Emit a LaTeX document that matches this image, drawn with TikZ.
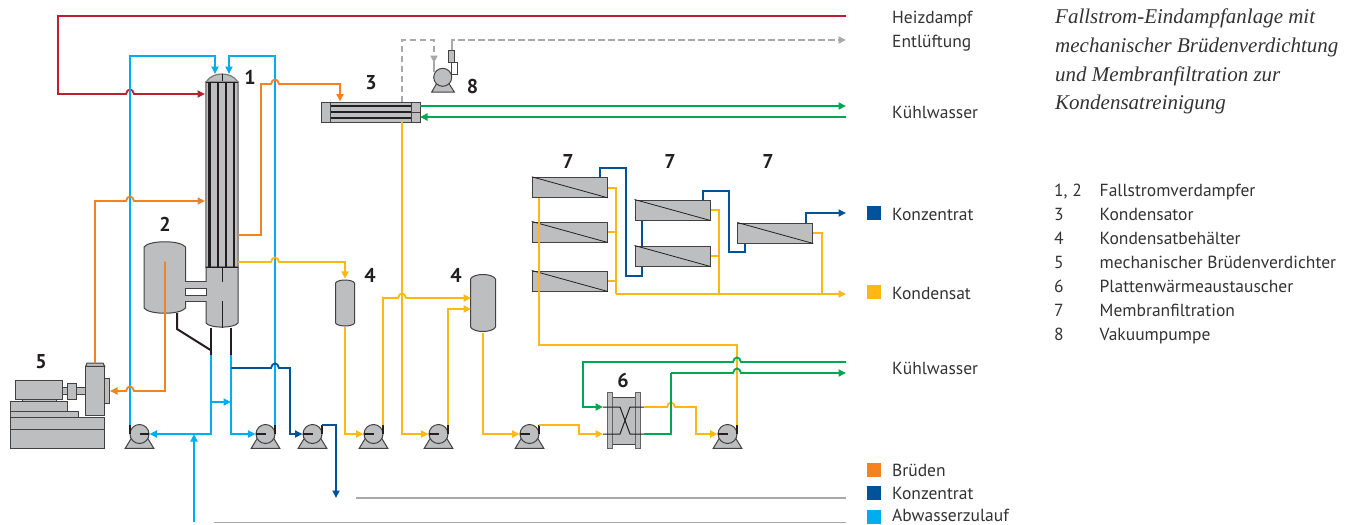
\documentclass[tikz,border=0pt]{standalone}
\usepackage{fontspec}
\setmainfont{PT Sans}
\newfontfamily\titlefont{Liberation Serif}
\usetikzlibrary{arrows.meta,calc}
\definecolor{cRed}{HTML}{BE1E2D}
\definecolor{cLblue}{HTML}{00AEEF}
\definecolor{cDblue}{HTML}{00529B}
\definecolor{cOrange}{HTML}{F58220}
\definecolor{cYellow}{HTML}{FDB813}
\definecolor{cGreen}{HTML}{00A651}
\definecolor{cGray}{HTML}{BCBEC0}
\definecolor{cDash}{HTML}{A7A9AC}
\definecolor{cDark}{HTML}{231F20}
\definecolor{cText}{HTML}{333333}
\tikzset{
  x=1pt,y=-1pt,
  pipe/.style={line width=1.8pt,line join=miter},
  tip/.style={-{Triangle[length=7.5pt,width=7pt]}},
  equip/.style={draw=cDark!85,fill=cGray,line width=1pt},
  pumpc/.style={circle,draw=cDark!85,fill=cGray,line width=1pt,minimum size=19pt,inner sep=0pt},
  membrane/.style={rectangle,draw=cDark!85,fill=cGray,line width=1pt,minimum width=75pt,minimum height=20pt,inner sep=0pt},
  anchorbox/.style={rectangle,inner sep=0pt},
  lbl/.style={anchor=base west,inner sep=0pt,font=\fontsize{17.5}{17.5}\selectfont,text=cText},
  num/.style={anchor=center,inner sep=0pt,font=\fontsize{20}{20}\selectfont\bfseries,text=cDark},
  ttl/.style={anchor=base west,inner sep=0pt,font=\fontsize{21}{21}\selectfont\titlefont\itshape,text=cText},
  leg/.style={rectangle,inner sep=0pt,minimum size=14pt},
}
% jumps over a vertical pipe at x=#1 on a horizontal run at y=#2
\newcommand{\jr}[2]{-- ({#1-4},#2) .. controls ({#1-3},{#2-6}) and ({#1+3},{#2-6}) .. ({#1+4},#2)}
\newcommand{\jl}[2]{-- ({#1+4},#2) .. controls ({#1+3},{#2-6}) and ({#1-3},{#2-6}) .. ({#1-4},#2)}
% name, x, y, direction
\newcommand{\pump}[4]{%
  \draw[equip] ({#2-14.3},{#3+14.3}) -- ({#2-8},{#3+4}) -- ({#2+8},{#3+4}) -- ({#2+14.3},{#3+14.3}) -- cycle;
  \node[pumpc] (#1) at (#2,#3) {};
  \draw[cDark,line width=1.1pt] (#2,#3) -- ({#2-#4*9.5},#3);
  \coordinate (#1o) at ({#2+#4*9.5},{#3-9});
  \draw[cDark,line width=1.8pt] (#1o) -- ({#2+#4*9.5},#3);
}
% name,x1,x2,y1,y2,d : vessel with dished ends
\newcommand{\vessel}[6]{%
  \draw[equip] (#2,{#4+#6}) .. controls ({#2+.12*(#3-#2)},#4) and ({#3-.12*(#3-#2)},#4) .. (#3,{#4+#6})
   -- (#3,{#5-#6}) .. controls ({#3-.12*(#3-#2)},#5) and ({#2+.12*(#3-#2)},#5) .. (#2,{#5-#6}) -- cycle;
  \node[anchorbox,minimum width={(#3-#2)*1pt},minimum height={(#5-#4)*1pt}] (#1) at ({(#2+#3)/2},{(#4+#5)/2}) {};
}
\begin{document}
\begin{tikzpicture}
\useasboundingbox (0,0) rectangle (1353,525);
\fill[white] (0,0) rectangle (1353,525);

% --- compressor 5
\draw[equip] (10.7,429.7) rectangle (104.7,448.3);
\draw[equip] (10.7,417.3) rectangle (104.7,429.7);
\draw[equip] (10.7,411) rectangle (78,417.3);
\draw[equip] (10.7,401.7) rectangle (67,411);
\draw[equip] (22.3,399.7) rectangle (56,401.7);
\draw[equip] (15.7,380.7) rectangle (62,399.7);
\draw[equip] (62,387) rectangle (67,394);
\draw[equip] (67,383) rectangle (76.3,399);
\draw[equip] (76.3,387.7) rectangle (85.7,394.7);
\draw[equip] (104.7,378.3) rectangle (109.7,403.3);
\draw[equip] (85.7,366.3) -- (87,363) -- (103,363) -- (104.7,366.3) -- (85.7,366.3);
\node[rectangle,draw=cDark!85,fill=cGray,line width=1pt,inner sep=0pt,minimum width=19pt,minimum height=49pt] (K5) at (95.2,390.8) {};
\coordinate (K5top) at (95,363);
\coordinate (K5in) at (110,391);

% --- separator 2 and column 1
\vessel{S2}{144}{185.5}{240}{315}{7}
\draw[equip,draw=cDark!60,line width=1.2pt] (206,82) .. controls (210,76) and (216,74) .. (222,74) .. controls (228,74) and (234,76) .. (238,82) -- cycle;
\draw[cDark,line width=1pt] (222,74) -- (222,82);
\draw[equip,draw=cDark!50,line width=1.3pt] (206,82) rectangle (238,267);
\draw[equip] (206,267) -- (238,267) -- (238,323) .. controls (234,328.5) and (210,328.5) .. (206,323) -- cycle;
\foreach \tx in {209.5,217.7,226,234.3} {\draw[cDark,line width=2.3pt] (\tx,82) -- (\tx,267);}
\draw[cDark,line width=1pt] (206,82) -- (238,82);
\draw[cDark,line width=1pt] (206,267) -- (238,267);
\draw[cDark,line width=1pt] (222,267) -- (222,282) (222,301) -- (222,327.5);
\fill[cGray] (185,281.7) rectangle (206.5,301);
\draw[cDark!85,line width=1pt] (185.5,281.7) -- (206,281.7) (185.5,301) -- (206,301);
\draw[cDark!85,fill=white,line width=1pt] (185.5,288) rectangle (206,295);
\node[anchorbox,minimum width=32pt,minimum height=254pt] (C1) at (222,201) {};
\coordinate (C1a) at (215,74);
\coordinate (C1bb) at (229,74);
\coordinate (C1c) at (205,94);
\coordinate (C1d) at (205,201);
\coordinate (C1e) at (238,235);
\coordinate (C1f) at (238,262);
\coordinate (C1g) at (211,355);
\coordinate (C1h) at (231,355);
\coordinate (S2o) at (165,261.5);
\draw[cDark,line width=2pt,line join=miter] (177,313) -- (177,329) -- (210.5,350);
\draw[cDark,line width=2pt] (211,327.5) -- (C1g);
\draw[cDark,line width=2pt] (231,327.5) -- (C1h);

% --- condenser 3
\node[rectangle,draw=cDark!85,fill=cGray,line width=1pt,inner sep=0pt,minimum width=98.3pt,minimum height=20pt] (C3) at (370.85,112.3) {};
\draw[cDark!85,line width=1pt] (330.7,102.3) -- (330.7,122.3) (411,102.3) -- (411,122.3) (411,112.3) -- (420,112.3);
\foreach \ty in {106,111.7,117.7} {\draw[cDark,line width=1.9pt] (330.7,\ty) -- (411,\ty);}
\coordinate (C3a) at (402,102.3);
\coordinate (C3b) at (402,122.3);
\coordinate (C3c) at (340,101.5);
\coordinate (C3d) at (420,106);
\coordinate (C3e) at (420,117);

% --- vacuum pump 8
\draw[equip] (431.7,92) -- (437.5,82) -- (448,82) -- (454.3,92) -- cycle;
\node[pumpc,minimum size=18pt] (V8) at (442.7,77.3) {};
\draw[cDark!85,fill=white,line width=1pt] (451.7,62) rectangle (457.3,74.3);
\draw[equip] (448.3,50.3) rectangle (454.7,62);
\coordinate (V8a) at (434,71.5);
\coordinate (V8b) at (452,50.3);

% --- vessels 4
\vessel{V4a}{335.5}{354.5}{279}{327}{4}
\vessel{V4b}{470.5}{495.5}{273}{333}{6}

% --- pumps
\pump{P1}{139.5}{434}{-1}
\pump{P2}{265.5}{434}{1}
\pump{P3}{312.5}{434}{1}
\pump{P4}{373.5}{434}{1}
\pump{P5}{438.5}{434}{1}
\pump{P6}{529.5}{434}{1}
\pump{P7}{727.5}{434}{1}

% --- membrane modules
\node[membrane] (M1) at (569.8,187.3) {};
\node[membrane] (M2) at (569.8,232) {};
\node[membrane] (M3) at (569.8,281) {};
\node[membrane] (M4) at (672.5,210) {};
\node[membrane] (M5) at (672.5,256) {};
\node[membrane] (M6) at (775.3,233) {};
\foreach \mm in {M1,M2,M3,M4,M5,M6} {\draw[cDark,line width=.8pt] (\mm.north west) -- (\mm.south east);}

% --- heat exchanger 6
\draw[equip] (612.5,397) rectangle (635.3,444);
\draw[equip,draw=cDark!70] (607.3,392) rectangle (612.5,448);
\draw[equip,draw=cDark!70] (635.3,392) rectangle (640.7,448);
\node[anchorbox,minimum width=33.4pt,minimum height=56pt] (H6) at (624,420) {};
\draw[cDark,line width=1pt] (603,407) -- (620,407) -- (630,434) -- (644.3,434);
\draw[cDark,line width=1pt] (603,434) -- (620,434) -- (630,407) -- (644.3,407);
\coordinate (H6a) at (603,407);
\coordinate (H6b) at (603,434);
\coordinate (H6c) at (644.3,407);
\coordinate (H6d) at (644.3,434);

% --- right-hand free ends
\coordinate (Eheiz) at (846,16);
\coordinate (Eent) at (846,40);
\coordinate (Ekw1) at (846,106);
\coordinate (Ekw2) at (846,117);
\coordinate (Ekon) at (846,213);
\coordinate (Ecnd) at (846,294);
\coordinate (Ekw3) at (846,362);
\coordinate (Ekw4) at (846,373);
\coordinate (Wzu) at (194,522);
\coordinate (Wj) at (194,434);
\coordinate (Kab) at (336,498);

% --- steam (red)
\draw[pipe,cRed,tip] (Eheiz) -- (58,16) -- (58,94) \jr{130}{94} -- (C1c);

% --- feed (light blue)
\draw[pipe,cLblue,tip] (P1o) -- (130,56) -- (215,56) -- (C1a);
\draw[pipe,cLblue,tip] (P2o) -- (275,56) -- (229,56) -- (C1bb);
\draw[pipe,cLblue,tip] (C1g) -- (211,434) -- (P1.east);
\draw[pipe,cLblue,tip] (C1h) -- (231,434) -- (P2.west);
\draw[pipe,cLblue,tip] (211,402) -- (231,402);
\draw[pipe,cLblue,tip] (Wzu) -- (Wj);

% --- vapour (orange)
\draw[pipe,cOrange,tip] (K5top) -- (95,201) \jr{130}{201} -- (C1d);
\draw[pipe,cOrange,tip] (C1e) -- (261,235) -- (261,84) \jr{275}{84} -- (340,84) -- (C3c);
\draw[pipe,cOrange,tip] (S2o) -- (165,391) \jl{130}{391} -- (K5in);

% --- concentrate (dark blue)
\draw[pipe,cDblue,tip] (231,368) \jr{275}{368} -- (290,368) -- (290,434) -- (P3.west);
\draw[pipe,cDblue,tip] (P3o) -- (336,425) -- (Kab);
\draw[pipe,cDblue] (M1.north -| 600,0) -- (600,168) -- (626,168) -- (626,276) -- (642,276) -- (M5.south -| 642,0);
\draw[pipe,cDblue] (M5.north -| 642,0) -- (M4.south -| 642,0);
\draw[pipe,cDblue] (M4.north -| 703,0) -- (703,191) -- (729,191) -- (729,252) -- (745,252) -- (M6.south -| 745,0);
\draw[pipe,cDblue,tip] (M6.north -| 806,0) -- (806,213) -- (Ekon);

% --- condensate (yellow)
\draw[pipe,cYellow,tip] (C1f) \jr{275}{262} -- (345,262) -- (V4a.north);
\draw[pipe,cYellow,tip] (V4a.south) |- (P4.west);
\draw[pipe,cYellow,tip] (C3b) -- (402,434) -- (P5.west);
\draw[pipe,cYellow,tip] (P4o) -- (383,298) \jr{402}{298} -- (471,298);
\draw[pipe,cYellow,tip] (P5o) -- (448,309) -- (471,309);
\draw[pipe,cYellow,tip] (V4b.south) |- (P6.west);
\draw[pipe,cYellow,tip] (P6o) -- (579,425) -- (579,434) -- (H6b);
\draw[pipe,cYellow] (P7o) -- (737,345) -- (539,345) -- (M1.south -| 539,0);
\draw[pipe,cYellow,tip] (H6c) \jr{671}{407} -- (696,407) -- (696,434) -- (P7.west);
\draw[pipe,cYellow] (M1.east |- 0,188) -- (616,188) -- (616,294);
\draw[pipe,cYellow] (M2.east) -- (616,232);
\draw[pipe,cYellow] (M3.east) -- (616,281);
\draw[pipe,cYellow] (M4.east) -- (719,210) -- (719,294);
\draw[pipe,cYellow] (M5.east) -- (719,256);
\draw[pipe,cYellow] (M6.east) -- (822,233) -- (822,294);
\draw[pipe,cYellow,tip] (616,294) -- (Ecnd);

% --- cooling water (green)
\draw[pipe,cGreen,tip] (C3d) -- (Ekw1);
\draw[pipe,cGreen,tip] (Ekw2) -- (C3e);
\draw[pipe,cGreen,tip] (Ekw3) \jl{737}{362} -- (583,362) -- (583,407) -- (H6a);
\draw[pipe,cGreen] (H6d) -- (671,434) -- (671,373);
\draw[pipe,cGreen,tip] (671,373) \jr{737}{373} -- (Ekw4);

% --- vent (grey)
\draw[pipe,cDash,dash pattern=on 6.5pt off 3.5pt] (C3a) -- (402,40) -- (434,40) -- (434,60);
\draw[pipe,cDash,tip] (434,56) -- (434,63);
\draw[pipe,cDash] (434,62) -- (V8a);
\draw[pipe,cDash] (V8b) -- (452,44);
\draw[pipe,cDash,dash pattern=on 6.5pt off 3.5pt] (452,44) -- (452,40) -- (840,40);
\draw[pipe,cDash,tip] (838,40) -- (Eent);

% --- thin grey leaders
\coordinate (La) at (356,498);
\coordinate (Lb) at (846,498);
\coordinate (Lc) at (214,522.5);
\coordinate (Ld) at (846,522.5);
\draw[cDash,line width=1.2pt] (La) -- (Lb);
\draw[cDash,line width=1.5pt] (Lc) -- (Ld);

% --- equipment numbers
\node[num] (n1) at (250,77) {1};
\node[num] (n2) at (165,224) {2};
\node[num] (n3) at (371,83) {3};
\node[num] (n4a) at (370,275) {4};
\node[num] (n4b) at (456,275) {4};
\node[num] (n5) at (41,362) {5};
\node[num] (n6) at (623,380) {6};
\node[num] (n7a) at (568,161) {7};
\node[num] (n7b) at (670,161) {7};
\node[num] (n7c) at (768,161) {7};
\node[num] (n8) at (472.5,86) {8};

% --- stream labels
\node[lbl] (t1) at (892,23) {Heizdampf};
\node[lbl] (t2) at (892,47) {Entlüftung};
\node[lbl] (t3) at (892,118) {Kühlwasser};
\node[lbl] (t4) at (892,220) {Konzentrat};
\node[lbl] (t5) at (892,299.5) {Kondensat};
\node[lbl] (t6) at (892,374) {Kühlwasser};
\node[lbl] (t7) at (892,476) {Brüden};
\node[lbl] (t8) at (892,499) {Konzentrat};
\node[lbl] (t9) at (892,521.5) {Abwasserzulauf};
\node[leg,fill=cDblue] (s1) at (874,213) {};
\node[leg,fill=cYellow] (s2) at (874,292) {};
\node[leg,fill=cOrange] (s3) at (874,470) {};
\node[leg,fill=cDblue] (s4) at (874,493) {};
\node[leg,fill=cLblue] (s5) at (874,517) {};

% --- title
\node[ttl] (h1) at (1055,23.3) {Fallstrom-Eindampfanlage mit};
\node[ttl] (h2) at (1055,52) {mechanischer Brüdenverdichtung};
\node[ttl] (h3) at (1055,81) {und Membranfiltration zur};
\node[ttl] (h4) at (1055,109) {Kondensatreinigung};

% --- key
\node[lbl] (k1) at (1054,196.5) {1, 2};   \node[lbl] (v1) at (1099.5,196.5) {Fallstromverdampfer};
\node[lbl] (k2) at (1054,220.5) {3};      \node[lbl] (v2) at (1099.5,220.5) {Kondensator};
\node[lbl] (k3) at (1054,244.5) {4};      \node[lbl] (v3) at (1099.5,244.5) {Kondensatbehälter};
\node[lbl] (k4) at (1054,268.5) {5};      \node[lbl] (v4) at (1099.5,268.5) {mechanischer Brüdenverdichter};
\node[lbl] (k5) at (1054,292.5) {6};      \node[lbl] (v5) at (1099.5,292.5) {Plattenwärmeaustauscher};
\node[lbl] (k6) at (1054,316.5) {7};      \node[lbl] (v6) at (1099.5,316.5) {Membranfiltration};
\node[lbl] (k7) at (1054,340.5) {8};      \node[lbl] (v7) at (1099.5,340.5) {Vakuumpumpe};
\end{tikzpicture}
\end{document}
